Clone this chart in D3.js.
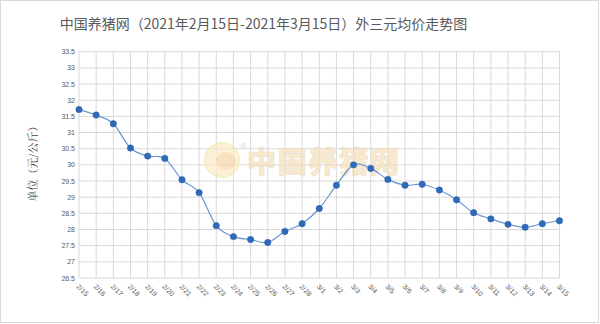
<!DOCTYPE html>
<html><head><meta charset="utf-8">
<script src="https://cdn.jsdelivr.net/npm/d3@7"></script>
<style>body{margin:0;background:#fff;}svg{display:block;}</style>
</head><body>
<svg id="c" width="600" height="324"></svg>
<script>
const categories = ["2/15","2/16","2/17","2/18","2/19","2/20","2/21","2/22","2/23","2/24","2/25","2/26","2/27","2/28",
  "3/1","3/2","3/3","3/4","3/5","3/6","3/7","3/8","3/9","3/10","3/11","3/12","3/13","3/14","3/15"];
const prices = [31.71,31.54,31.27,30.52,30.27,30.20,29.54,29.14,28.12,27.78,27.69,27.60,27.94,28.18,
  28.65,29.37,30.00,29.89,29.55,29.37,29.40,29.22,28.92,28.52,28.33,28.16,28.07,28.18,28.27];
const yTicks = [26.5,27,27.5,28,28.5,29,29.5,30,30.5,31,31.5,32,32.5,33,33.5];
const titleText = "中国养猪网（2021年2月15日-2021年3月15日）外三元均价走势图";
const yLabel = "单位（元/公斤）";

const svg = d3.select("#c");
const L = 79, R = 559.5, T = 51.7, B = 278;
svg.append("rect").attr("x",0.5).attr("y",0.5).attr("width",598).attr("height",322)
  .attr("fill","#fff").attr("stroke","#d9d9d9");

const x = d3.scalePoint().domain(categories).range([L, R]);
const y = d3.scaleLinear().domain([26.5,33.5]).range([B, T]);

// grid
const g = svg.append("g");
g.selectAll(".hg").data(yTicks).join("line")
  .attr("x1",L).attr("x2",R).attr("y1",d=>y(d)).attr("y2",d=>y(d))
  .attr("stroke","#d9d9d9").attr("stroke-width",1);
g.selectAll(".vg").data(categories).join("line")
  .attr("x1",d=>x(d)).attr("x2",d=>x(d)).attr("y1",T).attr("y2",B)
  .attr("stroke","#d9d9d9").attr("stroke-width",1);

// watermark
const wm = svg.append("g").attr("opacity",0.7);
wm.append("circle").attr("cx",222).attr("cy",160).attr("r",17)
  .attr("fill","#fcecc6").attr("stroke","#f3eab0").attr("stroke-width",2);
wm.append("ellipse").attr("cx",226).attr("cy",161).attr("rx",10).attr("ry",9).attr("fill","#f8d7a6");
wm.append("text").attr("x",240).attr("y",148).attr("font-size",7).attr("fill","#e0c8a8")
  .attr("font-family","DejaVu Sans").text("®");
wm.append("text").attr("x",247).attr("y",173).attr("font-size",29).attr("font-weight","bold")
  .attr("font-family","Noto Sans CJK SC").attr("fill","#fbe2b2").attr("stroke","#eedcc0").attr("stroke-width",1.5)
  .attr("textLength",152).text("中国养猪网");

// y axis labels
svg.append("g").selectAll("text").data(yTicks).join("text")
  .attr("x",L-4).attr("y",d=>y(d)+2.5).attr("text-anchor","end")
  .attr("font-size",7).attr("font-family","Liberation Sans").attr("fill","#595959")
  .text(d=>d);

// x axis labels
svg.append("g").selectAll("text").data(categories).join("text")
  .attr("transform",d=>`translate(${x(d)-3},${B+9}) rotate(45)`)
  .attr("font-size",7).attr("font-family","Liberation Sans").attr("fill","#595959")
  .text(d=>d);

// line
const line = d3.line().x((d,i)=>x(categories[i])).y(d=>y(d)).curve(d3.curveCardinal.tension(0));
svg.append("path").datum(prices).attr("d",line).attr("fill","none")
  .attr("stroke","#6a97d4").attr("stroke-width",1.2);
svg.append("g").selectAll("circle").data(prices).join("circle")
  .attr("cx",(d,i)=>x(categories[i])).attr("cy",d=>y(d)).attr("r",3.2)
  .attr("fill","#2f6ab9").attr("stroke","#2a62ad").attr("stroke-width",0.5);

// title
svg.append("text").attr("x",263.5).attr("y",29).attr("text-anchor","middle")
  .attr("font-size",14).attr("font-family","Noto Sans CJK SC").attr("fill","#595959")
  .text(titleText);

// y label
svg.append("text").attr("transform","translate(37,161) rotate(-90)").attr("text-anchor","middle")
  .attr("font-size",11).attr("font-family","Noto Serif CJK SC, Noto Sans CJK SC").attr("fill","#404040")
  .text(yLabel);
</script>
</body></html>
